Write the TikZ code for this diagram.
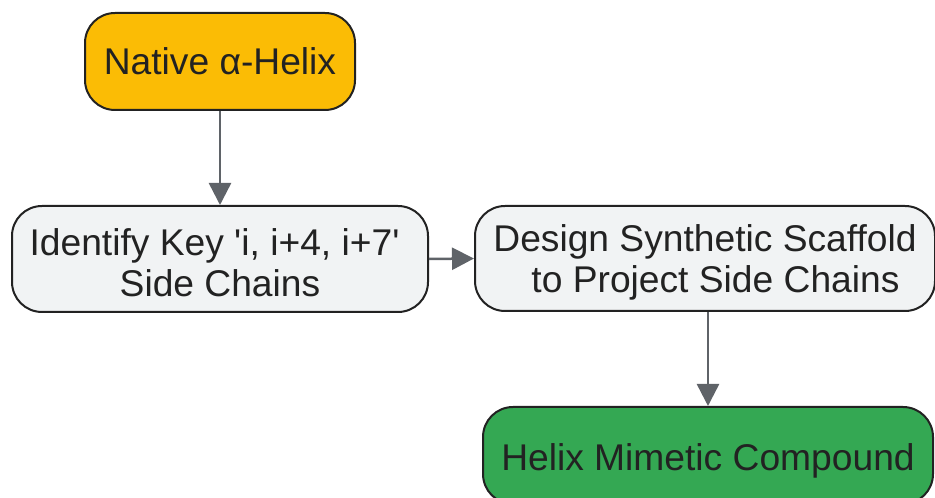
\documentclass[tikz,border=0pt]{standalone}
\usepackage{fontspec}
\setmainfont{Liberation Sans}
\usetikzlibrary{arrows.meta}
\definecolor{txt}{HTML}{222222}
\definecolor{bord}{HTML}{222222}
\definecolor{arr}{HTML}{5F6368}
\definecolor{orangefill}{HTML}{FBBC05}
\definecolor{grayfill}{HTML}{F1F3F4}
\definecolor{greenfill}{HTML}{34A853}
\tikzset{
  box/.style={draw=bord, line width=2pt, rounded corners=30pt, align=center, inner sep=0pt,
    text=txt, font=\fontsize{37.2}{41}\selectfont},
  conn/.style={draw=arr, line width=2.5pt, -{Triangle[length=22pt,width=22pt]}}
}
\begin{document}
\begin{tikzpicture}[x=1pt,y=1pt]
\useasboundingbox (0,0) rectangle (935,498);
\node[box, fill=orangefill, minimum width=270pt, minimum height=97pt] (n1) at (220,436.5) {Native α-Helix};
\node[box, fill=grayfill, minimum width=416pt, minimum height=106pt, text height=75pt] (n2) at (220,239) {Identify Key \textquotesingle i, i+4, i+7\textquotesingle\hspace*{11pt}\\Side Chains};
\node[box, fill=grayfill, minimum width=460pt, minimum height=105pt, text height=75pt] (n3) at (705,239.5) {Design Synthetic Scaffold\\\hspace*{21pt}to Project Side Chains};
\node[box, fill=greenfill, minimum width=450pt, minimum height=97pt, text height=37pt] (n4) at (708,42.5) {Helix Mimetic Compound};
\draw[conn] (n1.south) -- (n2.north);
\draw[conn] (n2.east) -- (n3.west);
\draw[conn] (n3.south -| n4.north) -- (n4.north);
\end{tikzpicture}
\end{document}
